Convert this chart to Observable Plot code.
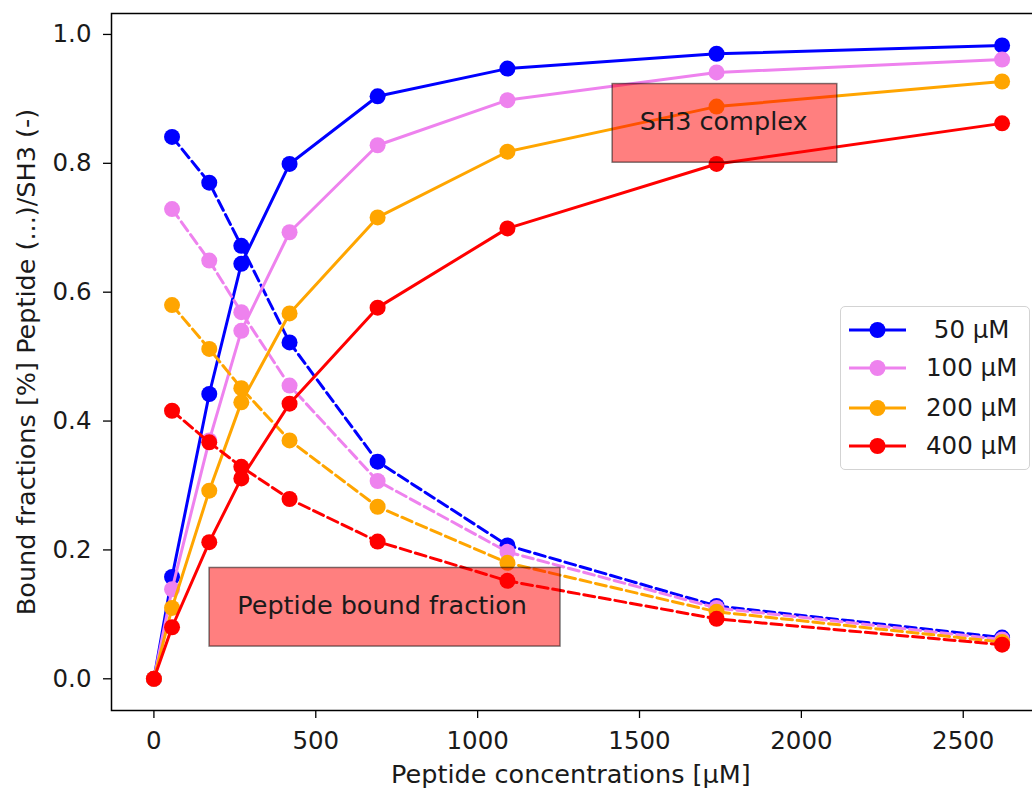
<!DOCTYPE html>
<html>
<head>
<meta charset="utf-8">
<script src="https://cdn.jsdelivr.net/npm/d3@7"></script>
<script src="https://cdn.jsdelivr.net/npm/@observablehq/plot@0.6"></script>
<style>
  html, body { margin: 0; padding: 0; background: white; overflow: hidden; }
  #wrap { position: relative; width: 1032px; height: 789px; overflow: hidden; font-family: "DejaVu Sans", sans-serif; }
  #chart svg { max-width: none !important; }
  #legend { position: absolute; left: 840px; top: 306px; width: 188px; height: 162px; border: 1.5px solid #d3d3d3; border-radius: 5px; background: rgba(255,255,255,0.8); }
  .row { position: absolute; left: 0; height: 30px; }
  .row svg { position: absolute; left: 6px; top: 0; }
  .row span { position: absolute; left: 85px; top: 0; line-height: 30px; font-size: 24.5px; color: #1a1a1a; white-space: pre; }
</style>
</head>
<body>
<div id="wrap"><div id="chart"></div><div id="legend"></div></div>
<script>
// Peptide concentrations [µM]
const conc = [0, 56, 171, 270, 419, 691, 1092, 1738, 2620];
// Series (SH3 concentrations)
const seriesNames = [" 50 µM", "100 µM", "200 µM", "400 µM"];
const seriesColors = ["blue", "violet", "orange", "red"];
// SH3 complex fraction (solid lines), one value per concentration (incl. 0)
const complex50  = [0, 0.158, 0.442, 0.644, 0.799, 0.904, 0.947, 0.970, 0.983];
const complex100 = [0, 0.139, 0.370, 0.540, 0.693, 0.828, 0.898, 0.941, 0.961];
const complex200 = [0, 0.110, 0.292, 0.429, 0.567, 0.716, 0.818, 0.888, 0.927];
const complex400 = [0, 0.080, 0.212, 0.311, 0.427, 0.576, 0.699, 0.799, 0.862];
// Peptide bound fraction (dashed lines), from the second concentration on
const peptide50  = [0.841, 0.770, 0.672, 0.522, 0.337, 0.207, 0.113, 0.064];
const peptide100 = [0.729, 0.649, 0.569, 0.455, 0.307, 0.197, 0.110, 0.061];
const peptide200 = [0.580, 0.512, 0.451, 0.370, 0.267, 0.180, 0.104, 0.057];
const peptide400 = [0.416, 0.367, 0.329, 0.279, 0.213, 0.152, 0.093, 0.053];
// Tick labels
const xTicks = [0, 500, 1000, 1500, 2000, 2500];
const yTicks = [0, 0.2, 0.4, 0.6, 0.8, 1.0];
// Annotation boxes (data coordinates)
const annLabels = ["SH3 complex", "Peptide bound fraction"];
const annX = [1760, 705];
const annY = [0.864, 0.114];
const annX1 = [1417, 172];
const annX2 = [2111, 1256];
const annY1 = [0.923, 0.172];
const annY2 = [0.801, 0.050];

const complexAll = [complex50, complex100, complex200, complex400];
const peptideAll = [peptide50, peptide100, peptide200, peptide400];

const marks = [];
seriesNames.forEach((name, i) => {
  const solid = conc.map((c, j) => ({x: c, y: complexAll[i][j]}));
  const dashed = conc.slice(1).map((c, j) => ({x: c, y: peptideAll[i][j]}));
  marks.push(Plot.line(solid, {x: "x", y: "y", stroke: seriesColors[i], strokeWidth: 3}));
  marks.push(Plot.dot(solid, {x: "x", y: "y", fill: seriesColors[i], r: 8, stroke: "none"}));
  marks.push(Plot.line(dashed, {x: "x", y: "y", stroke: seriesColors[i], strokeWidth: 3, strokeDasharray: "11,4.8"}));
  marks.push(Plot.dot(dashed, {x: "x", y: "y", fill: seriesColors[i], r: 8, stroke: "none"}));
});

const ann = annLabels.map((t, i) => ({t, x: annX[i], y: annY[i], x1: annX1[i], x2: annX2[i], y1: annY1[i], y2: annY2[i]}));

const plot = Plot.plot({
  width: 1044,
  height: 789,
  marginLeft: 111,
  marginRight: 0,
  marginTop: 13,
  marginBottom: 79,
  style: {fontFamily: "DejaVu Sans", background: "white", overflow: "visible", maxWidth: "none"},
  x: {domain: [-131, 2751]},
  y: {domain: [-0.0492, 1.0325]},
  marks: [
    ...marks,
    Plot.rect(ann, {x1: "x1", x2: "x2", y1: "y1", y2: "y2", fill: "red", fillOpacity: 0.5, stroke: "black", strokeOpacity: 0.5, strokeWidth: 1.5}),
    Plot.text(ann, {x: "x", y: "y", text: "t", fontSize: 25.5, fill: "#1a1a1a", lineAnchor: "middle"}),
    Plot.frame({stroke: "black", strokeWidth: 1.5}),
    Plot.axisX({ticks: xTicks, tickFormat: d3.format("d"), tickSize: 8, tickPadding: 13, fontSize: 24.5, label: null, stroke: "black", strokeWidth: 1.3, fill: "#1a1a1a"}),
    Plot.axisY({ticks: yTicks, tickFormat: d3.format(".1f"), tickSize: 8, tickPadding: 12, fontSize: 24.5, label: null, stroke: "black", strokeWidth: 1.3, fill: "#1a1a1a"}),
    Plot.text(["Peptide concentrations [µM]"], {frameAnchor: "bottom", dy: 64, fontSize: 25.5, fill: "#1a1a1a", lineAnchor: "middle", textAnchor: "middle", x: () => 1288, text: d => d}),
    Plot.text(["Bound fractions [%] Peptide (...)/SH3 (-)"], {frameAnchor: "left", dx: -85, rotate: -90, fontSize: 25.5, fill: "#1a1a1a", lineAnchor: "middle", textAnchor: "middle", text: d => d})
  ]
});
document.getElementById("chart").appendChild(plot);

// Legend
const legend = document.getElementById("legend");
const rowTops = [8, 46, 86, 124];
seriesNames.forEach((name, i) => {
  const row = document.createElement("div");
  row.className = "row";
  row.style.top = rowTops[i] + "px";
  row.innerHTML = `<svg width="70" height="30"><line x1="2" y1="15" x2="59" y2="15" stroke="${seriesColors[i]}" stroke-width="3"/><circle cx="30.5" cy="15" r="8" fill="${seriesColors[i]}"/></svg><span>${name}</span>`;
  legend.appendChild(row);
});
</script>
</body>
</html>
